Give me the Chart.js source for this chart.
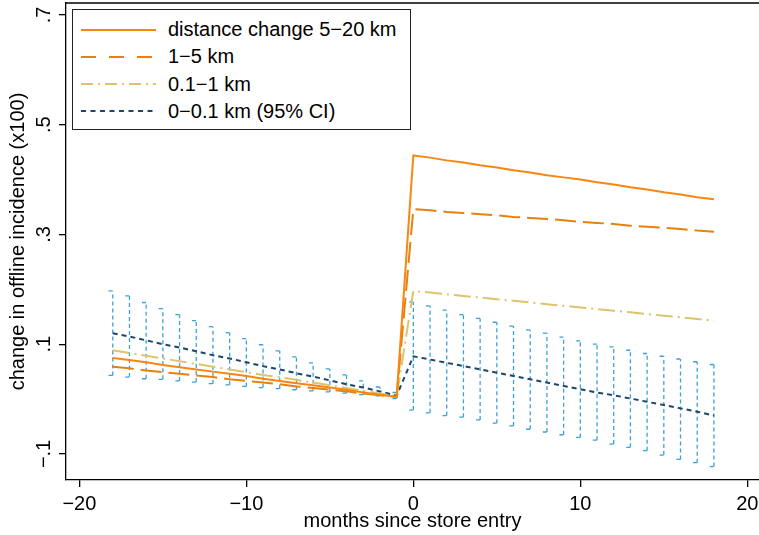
<!DOCTYPE html>
<html>
<head>
<meta charset="utf-8">
<script src="https://cdn.jsdelivr.net/npm/chart.js@4.4.1/dist/chart.umd.min.js"></script>
<style>
  html, body { margin: 0; padding: 0; background: #fff; overflow: hidden; }
  #wrap { position: relative; width: 759px; height: 535px; }
  #legend {
    position: absolute; left: 72px; top: 9px; width: 337px; height: 119px;
    border: 1.3px solid #222; background: #fff;
    font-family: 'Liberation Sans', Arial, sans-serif; font-size: 20px; color: #000;
  }
  .row { position: absolute; left: 0; height: 26px; display: flex; align-items: center; white-space: nowrap; }
  .row svg { margin-left: 8px; }
  .row span { margin-left: 12px; }
</style>
</head>
<body>
<div id="wrap">
  <canvas id="chart" width="759" height="535"></canvas>
  <div id="legend"></div>
</div>
<script>
// ---------- 데이터 ----------
const months = [-18, -17, -16, -15, -14, -13, -12, -11, -10, -9, -8, -7, -6, -5, -4, -3, -2, -1,
  0, 1, 2, 3, 4, 5, 6, 7, 8, 9, 10, 11, 12, 13, 14, 15, 16, 17, 18];

// distance change 5-20 km
const far = [0.075, 0.071, 0.067, 0.062, 0.058, 0.054, 0.050, 0.046, 0.042, 0.037, 0.033, 0.029, 0.025, 0.021, 0.017, 0.012, 0.008, 0.004,
  0.444, 0.440, 0.435, 0.431, 0.426, 0.422, 0.417, 0.413, 0.408, 0.404, 0.400, 0.395, 0.391, 0.386, 0.382, 0.377, 0.373, 0.368, 0.364];
// 1-5 km
const mid = [0.059, 0.056, 0.052, 0.049, 0.046, 0.043, 0.040, 0.036, 0.033, 0.030, 0.027, 0.023, 0.020, 0.017, 0.014, 0.010, 0.007, 0.004,
  0.346, 0.344, 0.341, 0.339, 0.337, 0.335, 0.332, 0.330, 0.328, 0.326, 0.323, 0.321, 0.319, 0.316, 0.314, 0.312, 0.310, 0.307, 0.305];
// 0.1-1 km
const near = [0.089, 0.084, 0.079, 0.074, 0.069, 0.064, 0.059, 0.054, 0.049, 0.044, 0.040, 0.035, 0.030, 0.025, 0.020, 0.015, 0.010, 0.005,
  0.197, 0.194, 0.191, 0.188, 0.185, 0.182, 0.179, 0.176, 0.173, 0.170, 0.167, 0.164, 0.161, 0.158, 0.155, 0.152, 0.149, 0.146, 0.143];
// 0-0.1 km + 95% CI
const nearest = [0.120, 0.114, 0.107, 0.100, 0.094, 0.087, 0.080, 0.074, 0.067, 0.060, 0.054, 0.047, 0.041, 0.034, 0.027, 0.021, 0.014, 0.006,
  0.078, 0.072, 0.066, 0.060, 0.054, 0.048, 0.042, 0.036, 0.030, 0.024, 0.018, 0.012, 0.007, 0.001, -0.005, -0.011, -0.017, -0.023, -0.030];
const ciHigh = [0.197, 0.188, 0.176, 0.165, 0.154, 0.143, 0.132, 0.121, 0.110, 0.099, 0.088, 0.077, 0.066, 0.055, 0.044, 0.033, 0.022, 0.012,
  0.177, 0.170, 0.162, 0.154, 0.147, 0.140, 0.133, 0.126, 0.120, 0.113, 0.106, 0.100, 0.095, 0.089, 0.083, 0.078, 0.073, 0.068, 0.063];
const ciLow = [0.043, 0.040, 0.037, 0.036, 0.033, 0.031, 0.028, 0.026, 0.023, 0.021, 0.019, 0.017, 0.015, 0.013, 0.011, 0.008, 0.006, 0.001,
  -0.020, -0.025, -0.030, -0.033, -0.038, -0.044, -0.049, -0.055, -0.060, -0.065, -0.070, -0.075, -0.082, -0.088, -0.094, -0.102, -0.110, -0.116, -0.123];

const seriesNames = ['distance change 5\u221220 km', '1\u22125 km', '0.1\u22121 km', '0\u22120.1 km (95% CI)'];
const xTickValues = [-20, -10, 0, 10, 20];
const xTickLabels = ['\u221220', '\u221210', '0', '10', '20'];
const yTickValues = [-0.1, 0.1, 0.3, 0.5, 0.7];
const yTickLabels = ['\u2212.1', '.1', '.3', '.5', '.7'];

// ---------- 스타일 ----------
const FONT = "'Liberation Sans', Arial, sans-serif";
const FONT_SIZE = 20;
const styles = [
  { color: '#f8860f', dash: [], legendDash: [], width: 2 },
  { color: '#e8800e', dash: [21, 7], legendDash: [15, 13], width: 2 },
  { color: '#dcc46c', dash: [17, 5, 2, 5], legendDash: [12, 5, 2, 5], width: 2 },
  { color: '#1c466b', dash: [5, 4], legendDash: [5, 4.5], width: 2 },
];
const CI_COLOR = '#3aa2d6';
const CAP = 0.25; // cap half-width in months

const toPoints = (ys) => months.map((m, i) => ({ x: m, y: ys[i] }));

function ciBarPoints() {
  const pts = [];
  months.forEach((m, i) => {
    pts.push({ x: m, y: ciLow[i] }, { x: m, y: ciHigh[i] }, { x: m, y: null });
    pts.push({ x: m - CAP, y: ciHigh[i] }, { x: m, y: ciHigh[i] }, { x: m, y: null });
    pts.push({ x: m - CAP, y: ciLow[i] }, { x: m, y: ciLow[i] }, { x: m, y: null });
  });
  return pts;
}

// ---------- 플러그인: 위쪽 테두리 + 세로 눈금 라벨 ----------
const framePlugin = {
  id: 'frame',
  afterDraw(chart) {
    const { ctx, chartArea } = chart;
    const y = chart.scales.y;
    ctx.save();
    ctx.strokeStyle = '#000';
    ctx.lineWidth = 1.3;
    ctx.beginPath();
    ctx.moveTo(chartArea.left, chartArea.top);
    ctx.lineTo(chartArea.right, chartArea.top);
    ctx.stroke();

    ctx.fillStyle = '#000';
    ctx.font = FONT_SIZE + 'px ' + FONT;
    ctx.textAlign = 'center';
    ctx.textBaseline = 'middle';
    yTickValues.forEach((v, i) => {
      ctx.save();
      ctx.translate(44, y.getPixelForValue(v));
      ctx.rotate(-Math.PI / 2);
      ctx.fillText(yTickLabels[i], 0, 0);
      ctx.restore();
    });
    ctx.restore();
  },
};

function lineDataset(i, ys) {
  return {
    label: seriesNames[i],
    data: toPoints(ys),
    borderColor: styles[i].color,
    borderDash: styles[i].dash,
    borderWidth: styles[i].width,
    borderCapStyle: 'butt',
    pointRadius: 0,
    tension: 0,
    fill: false,
  };
}

new Chart(document.getElementById('chart'), {
  type: 'line',
  data: {
    datasets: [
      lineDataset(0, far),
      lineDataset(1, mid),
      lineDataset(2, near),
      lineDataset(3, nearest),
      {
        label: 'ci',
        data: ciBarPoints(),
        borderColor: CI_COLOR,
        borderDash: [4, 3],
        borderWidth: 1.3,
        borderCapStyle: 'butt',
        pointRadius: 0,
        spanGaps: false,
        tension: 0,
        fill: false,
      },
    ],
  },
  options: {
    responsive: false,
    animation: false,
    layout: { padding: { top: 3, right: 0, left: 0, bottom: 0 } },
    plugins: { legend: { display: false }, tooltip: { enabled: false } },
    scales: {
      x: {
        type: 'linear',
        min: -20.8,
        max: 20.7,
        afterBuildTicks: (s) => { s.ticks = xTickValues.map((v) => ({ value: v })); },
        afterFit: (s) => { s.height = 55; s.paddingLeft = 0; s.paddingRight = 0; },
        ticks: {
          color: '#000',
          font: { family: FONT, size: FONT_SIZE },
          padding: 5,
          maxRotation: 0,
          autoSkip: false,
          callback: (v) => xTickLabels[xTickValues.indexOf(v)],
        },
        grid: { display: true, drawOnChartArea: false, drawTicks: true, tickLength: 7, color: '#000', lineWidth: 1.3 },
        border: { display: true, color: '#000', width: 1.3 },
        title: {
          display: true,
          text: 'months since store entry',
          color: '#000',
          font: { family: FONT, size: FONT_SIZE },
          padding: { top: 0, bottom: 2 },
        },
      },
      y: {
        type: 'linear',
        min: -0.1475,
        max: 0.7218,
        afterBuildTicks: (s) => { s.ticks = yTickValues.map((v) => ({ value: v })); },
        afterFit: (s) => { s.width = 66; s.paddingTop = 0; s.paddingBottom = 0; },
        ticks: { display: false },
        grid: { display: true, drawOnChartArea: false, drawTicks: true, tickLength: 7, color: '#000', lineWidth: 1.3 },
        border: { display: true, color: '#000', width: 1.3 },
        title: {
          display: true,
          text: 'change in offline incidence (x100)',
          color: '#000',
          font: { family: FONT, size: FONT_SIZE },
          padding: { top: 6, bottom: 0 },
        },
      },
    },
  },
  plugins: [framePlugin],
});

// ---------- HTML 범례 ----------
const legend = document.getElementById('legend');
seriesNames.forEach((name, i) => {
  const row = document.createElement('div');
  row.className = 'row';
  row.style.top = (6.5 + 27.3 * i) + 'px';
  const st = styles[i];
  row.innerHTML =
    '<svg width="75" height="6"><line x1="0" y1="3" x2="75" y2="3" stroke="' + st.color +
    '" stroke-width="2" stroke-dasharray="' + (st.legendDash.length ? st.legendDash.join(' ') : 'none') +
    '"/></svg><span>' + name + '</span>';
  legend.appendChild(row);
});
</script>
</body>
</html>
